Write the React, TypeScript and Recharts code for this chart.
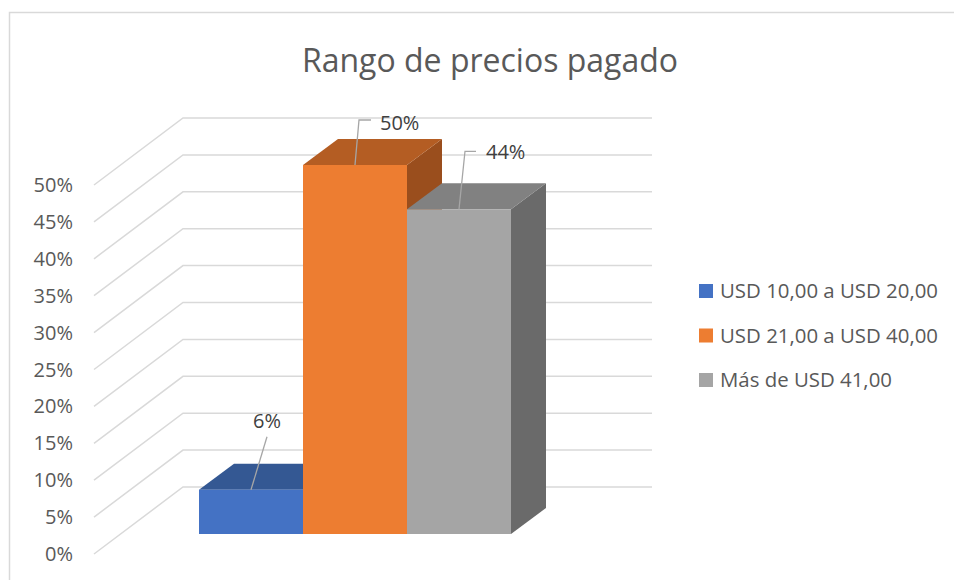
import React from 'react';
import { BarChart, Bar, XAxis, YAxis, CartesianGrid, Legend, LabelList } from 'recharts';

// ---- data ----
const categories: string[] = ['Rango de precios pagado'];
const seriesKeys: string[] = ['s1', 's2', 's3'];
const seriesNames: string[] = ['USD 10,00 a USD 20,00', 'USD 21,00 a USD 40,00', 'Más de USD 41,00'];
const seriesValues: number[] = [0.06, 0.5, 0.44];
const yTicks: number[] = [0, 0.05, 0.1, 0.15, 0.2, 0.25, 0.3, 0.35, 0.4, 0.45, 0.5];
const chartTitle = 'Rango de precios pagado';

const data = categories.map((c) => {
  const row: Record<string, any> = { name: c };
  seriesKeys.forEach((k, i) => {
    row[k] = seriesValues[i];
  });
  return row;
});

// ---- styles ----
const FONT = '"Open Sans", "Noto Sans", sans-serif';
const FRONT = ['#4472C4', '#ED7D31', '#A5A5A5'];
const TOP = ['#345893', '#B45D23', '#818181'];
const SIDE = ['#2B4C80', '#9A4E1D', '#6A6A6A'];
const GRID = '#d9d9d9';
const AXIS_TEXT = '#595959';
const LABEL_TEXT = '#404040';
const LEADER = '#a6a6a6';
const DX = 35; // bar depth offset
const DY = 26;
// wall / floor perspective relative to bar front plane
const FLOOR_FRONT_DX = -105;
const FLOOR_FRONT_DY = 20;
const WALL_DX = -16;
const WALL_DY = -47;
const WALL_RIGHT_EXTRA = 141;

const LABEL_STYLE = [
  { ex: 16, ey: -53, hook: 0, tx: 16, ty: -69, anchor: 'middle' },
  { ex: 4, ey: -45, hook: 12, tx: 25, ty: -42, anchor: 'start' },
  { ex: 6, ey: -58, hook: 11, tx: 27, ty: -57, anchor: 'start' },
];

const pct = (v: number) => `${Math.round(v * 100)}%`;

const makeShape = (i: number) => (props: any) => {
  const { x, y, width, height } = props;
  if (width == null || height == null) return <g />;
  const r = x + width;
  const b = y + height;
  return (
    <g>
      <polygon points={`${r},${y} ${r + DX},${y - DY} ${r + DX},${b - DY} ${r},${b}`} fill={SIDE[i]} />
      <polygon points={`${x},${y} ${x + DX},${y - DY} ${r + DX},${y - DY} ${r},${y}`} fill={TOP[i]} />
      <rect x={x} y={y} width={width} height={height} fill={FRONT[i]} />
    </g>
  );
};

const makeLabel = (i: number) => (props: any) => {
  const { x, y, width, value } = props;
  const s = LABEL_STYLE[i];
  const cx = x + width / 2;
  const ex = cx + s.ex;
  const ey = y + s.ey;
  const pts = s.hook ? `${cx},${y} ${ex},${ey} ${ex + s.hook},${ey}` : `${cx},${y} ${ex},${ey}`;
  return (
    <g>
      <polyline points={pts} fill="none" stroke={LEADER} strokeWidth={1.3} />
      <text
        x={cx + s.tx}
        y={y + s.ty}
        dy="0.35em"
        textAnchor={s.anchor as any}
        fontSize={20}
        fontFamily={FONT}
        fill={LABEL_TEXT}
      >
        {pct(value)}
      </text>
    </g>
  );
};

const gridLine = (props: any) => {
  const { x1, y1, x2, index } = props;
  const fx = x1 + FLOOR_FRONT_DX;
  const fy = y1 + FLOOR_FRONT_DY;
  const bx = x1 + WALL_DX;
  const by = y1 + WALL_DY;
  return (
    <polyline
      key={`gl-${index}-${y1}`}
      points={`${fx},${fy} ${bx},${by} ${x2 + WALL_RIGHT_EXTRA},${by}`}
      fill="none"
      stroke={GRID}
      strokeWidth={1.5}
    />
  );
};

const YTick = (props: any) => {
  const { x, y, payload } = props;
  return (
    <text
      x={x + FLOOR_FRONT_DX - 21}
      y={y + FLOOR_FRONT_DY}
      dy="0.35em"
      textAnchor="end"
      fontSize={20}
      fontFamily={FONT}
      fill={AXIS_TEXT}
    >
      {pct(payload.value)}
    </text>
  );
};

const renderLegend = (props: any) => {
  const payload = [...(props.payload || [])].sort(
    (a: any, b: any) => seriesNames.indexOf(a.value) - seriesNames.indexOf(b.value)
  );
  return (
    <svg width={250} height={130} style={{ display: 'block' }}>
      {payload.map((p: any, i: number) => (
        <g key={`lg-${i}`}>
          <rect x={4} y={16 + i * 44.5} width={14} height={14} fill={p.color} />
          <text x={25} y={23 + i * 44.5} dy="0.35em" fontSize={20.4} fontFamily={FONT} fill={AXIS_TEXT}>
            {p.value}
          </text>
        </g>
      ))}
    </svg>
  );
};

export default function App() {
  return (
    <div style={{ position: 'absolute', left: 0, top: 0, width: 954, height: 580, overflow: 'hidden', background: '#fff' }}>
      <svg width={954} height={580} style={{ position: 'absolute', left: 0, top: 0 }}>
        <rect x={9.5} y={12.5} width={1200} height={1200} fill="none" stroke={GRID} strokeWidth={1.5} />
        <text x={490} y={72} textAnchor="middle" fontSize={32} fontFamily={FONT} fill={AXIS_TEXT}>
          {chartTitle}
        </text>
      </svg>
      <div style={{ position: 'absolute', left: 0, top: 0 }}>
        <BarChart
          width={954}
          height={580}
          data={data}
          margin={{ top: 165, right: 193, bottom: 46, left: 0 }}
          barCategoryGap={0}
          barGap={0}
        >
          <CartesianGrid vertical={false} horizontal={gridLine as any} stroke={GRID} />
          <XAxis dataKey="name" hide />
          <YAxis
            width={199}
            domain={[0, 0.5]}
            ticks={yTicks}
            axisLine={false}
            tickLine={false}
            tickSize={0}
            tickMargin={0}
            tick={<YTick />}
            interval={0}
          />
          <Legend
            layout="vertical"
            align="right"
            verticalAlign="top"
            content={renderLegend}
            wrapperStyle={{ left: 695, top: 268, right: 'auto', width: 250, height: 130 }}
          />
          {seriesKeys.map((k, i) => (
            <Bar
              key={k}
              dataKey={k}
              name={seriesNames[i]}
              fill={FRONT[i]}
              shape={makeShape(i)}
              isAnimationActive={false}
            >
              <LabelList dataKey={k} content={makeLabel(i)} />
            </Bar>
          ))}
        </BarChart>
      </div>
    </div>
  );
}
